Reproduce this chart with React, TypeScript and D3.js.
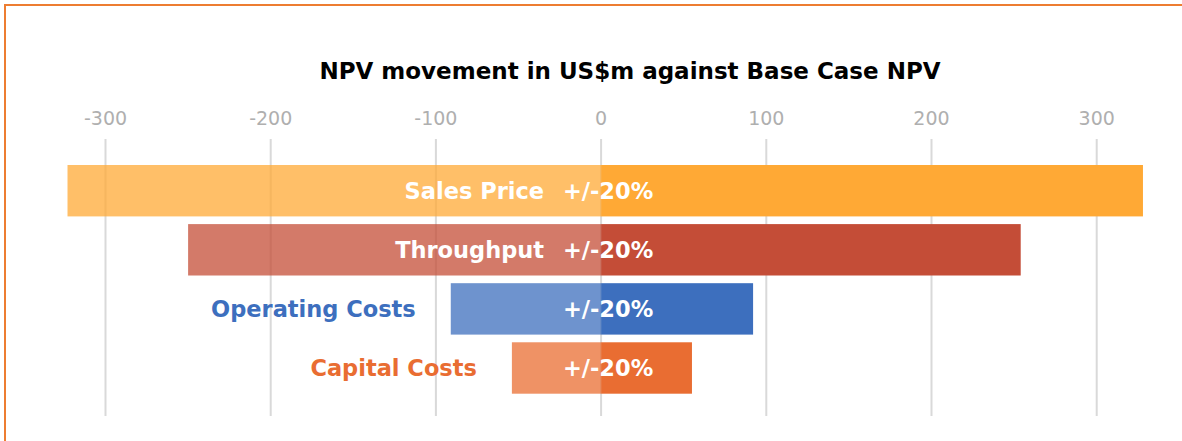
import React from 'react';
import * as d3 from 'd3';

// Tornado data: NPV movement (US$m) for a -20% / +20% change in each driver
const categories = ['Sales Price', 'Throughput', 'Operating Costs', 'Capital Costs'];
const lowValues = [-323, -250, -91, -54];
const highValues = [328, 254, 92, 55];
const barColors = ['#FFA935', '#C44D37', '#3D6FBE', '#E96D32'];
const changeLabel = '+/-20%';
const ticks = [-300, -200, -100, 0, 100, 200, 300];
const title = 'NPV movement in US$m against Base Case NPV';

const W = 1182;
const H = 441;
const FONT = '"DejaVu Sans", sans-serif';

export default function App() {
  const x = d3.scaleLinear().domain([-300, 300]).range([105.5, 1096.7]);
  const y = d3.scaleBand<string>().domain(categories).range([165, 393.7]).paddingInner(0.13);
  const bw = y.bandwidth();

  return (
    <div style={{ position: 'absolute', left: 0, top: 0 }}>
      <svg width={W} height={H} style={{ display: 'block', background: '#fff' }}>
        {/* outer frame */}
        <rect x={5} y={5} width={W + 20} height={H + 20} fill="none" stroke="#ED7D31" strokeWidth={2} />

        <text x={630} y={79} textAnchor="middle" fontFamily={FONT} fontWeight="bold" fontSize={23} fill="#000">
          {title}
        </text>

        {/* tick labels + gridlines */}
        {ticks.map((t) => (
          <g key={t}>
            <text x={x(t)} y={125} textAnchor="middle" fontFamily={FONT} fontSize={19} fill="#AFAFAF">
              {t}
            </text>
            <line x1={x(t)} x2={x(t)} y1={139} y2={416} stroke="#D9D9D9" strokeWidth={2} />
          </g>
        ))}

        {categories.map((c, i) => {
          const top = y(c) as number;
          const x0 = x(lowValues[i]);
          const x1 = x(highValues[i]);
          const zero = x(0);
          const mid = top + bw / 2;
          // label fits inside the downside bar?
          const inside = zero - x0 > 250;
          const labelX = inside ? zero - 57 : x0 - 35;
          return (
            <g key={c}>
              <rect x={x0} y={top} width={zero - x0} height={bw} fill={barColors[i]} opacity={0.75} />
              <rect x={zero} y={top} width={x1 - zero} height={bw} fill={barColors[i]} />
              <text x={labelX} y={mid + 8} textAnchor="end" fontFamily={FONT} fontWeight="bold" fontSize={22.5}
                fill={inside ? '#fff' : barColors[i]}>
                {c}
              </text>
              <text x={zero + 7} y={mid + 8} textAnchor="middle" fontFamily={FONT} fontWeight="bold" fontSize={22.5} fill="#fff">
                {changeLabel}
              </text>
            </g>
          );
        })}
      </svg>
    </div>
  );
}
